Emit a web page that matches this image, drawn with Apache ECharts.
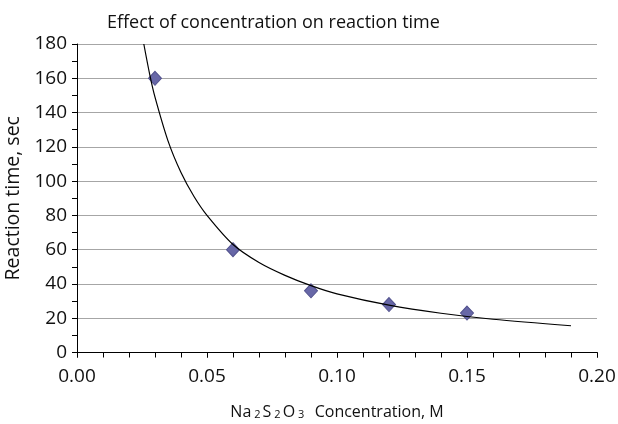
<!DOCTYPE html>
<html>
<head>
<meta charset="utf-8">
<script src="https://cdn.jsdelivr.net/npm/echarts@6/dist/echarts.min.js"></script>
<style>html,body{margin:0;padding:0;background:#fff}#c{width:618px;height:424px}</style>
</head>
<body>
<div id="c"></div>
<script>
// Measured points
const concentration = [0.03, 0.06, 0.09, 0.12, 0.15];
const reactionTime = [160, 60, 36, 28, 23];
// Trendline
const trendX = [0.0257, 0.028, 0.03, 0.035, 0.04, 0.045, 0.05, 0.06, 0.07, 0.08, 0.09, 0.10, 0.12, 0.14, 0.16, 0.19];
const trendY = [180, 162, 149, 123.5, 105, 91, 80, 63, 52.5, 45, 39, 34.2, 27.6, 22.9, 19.4, 15.6];
const xTicks = ['0.00', '0.05', '0.10', '0.15', '0.20'];
const yTicks = [0, 20, 40, 60, 80, 100, 120, 140, 160, 180];

const FONT = "'Open Sans', sans-serif";
const chart = echarts.init(document.getElementById('c'), null, {renderer: 'canvas'});

const xBase = {type: 'value', min: 0, max: 0.2, interval: 0.05};
const yBase = {type: 'value', min: yTicks[0], max: yTicks[yTicks.length - 1], interval: 20};

chart.setOption({
  animation: false,
  backgroundColor: '#fff',
  title: {
    text: 'Effect of concentration on reaction time',
    left: 102, top: 9,
    textStyle: {fontFamily: FONT, fontSize: 18, fontWeight: 'normal', color: '#111'}
  },
  grid: {left: 77, right: 21, top: 44, bottom: 71.5, containLabel: false, outerBoundsMode: 'none'},
  xAxis: [
    Object.assign({}, xBase, {
      axisLine: {show: true, onZero: false, lineStyle: {color: '#000', width: 1}},
      axisTick: {show: true, inside: false, length: 5, lineStyle: {color: '#000'}},
      minorTick: {show: false},
      splitLine: {show: false},
      axisLabel: {
        fontFamily: FONT, fontSize: 19, color: '#111', margin: 15,
        formatter: function (v) { const i = Math.round(v / 0.05); return xTicks[i]; }
      },
      name: '{t|Na}{s|2}{t|S}{s|2}{t|O}{s|3}{t|  Concentration, M}',
      nameLocation: 'middle', nameGap: 46,
      nameTextStyle: {
        rich: {
          t: {fontFamily: FONT, fontSize: 16, color: '#111', lineHeight: 22, verticalAlign: 'bottom'},
          s: {fontFamily: FONT, fontSize: 11, color: '#111', lineHeight: 22, padding: [0, 2, 0, 3], verticalAlign: 'bottom'}
        }
      }
    }),
    Object.assign({}, xBase, {
      axisLine: {show: false},
      axisTick: {show: true, inside: true, length: 5, lineStyle: {color: '#000'}},
      minorTick: {show: true, splitNumber: 5, length: 5, lineStyle: {color: '#000'}},
      splitLine: {show: false},
      axisLabel: {show: false}
    })
  ],
  yAxis: [
    Object.assign({}, yBase, {
      axisLine: {show: true, onZero: false, lineStyle: {color: '#000', width: 1}},
      axisTick: {show: true, inside: false, length: 5, lineStyle: {color: '#000'}},
      minorTick: {show: false},
      splitLine: {show: true, lineStyle: {color: '#a6a6a6', width: 1}},
      axisLabel: {fontFamily: FONT, fontSize: 19, color: '#111', margin: 10},
      name: 'Reaction time, sec',
      nameLocation: 'middle', nameGap: 51,
      nameTextStyle: {fontFamily: FONT, fontSize: 19.5, color: '#111'}
    }),
    Object.assign({}, yBase, {
      axisLine: {show: false},
      axisTick: {show: true, inside: true, length: 5, lineStyle: {color: '#000'}},
      minorTick: {show: true, splitNumber: 2, length: 5, lineStyle: {color: '#000'}},
      splitLine: {show: false},
      axisLabel: {show: false}
    })
  ],
  series: [
    {
      type: 'line',
      xAxisIndex: 0, yAxisIndex: 0,
      data: trendX.map((x, i) => [x, trendY[i]]),
      smooth: 0.3,
      showSymbol: false,
      symbol: 'none',
      lineStyle: {color: '#000', width: 1.2},
      z: 3
    },
    {
      type: 'scatter',
      xAxisIndex: 0, yAxisIndex: 0,
      data: concentration.map((x, i) => [x, reactionTime[i]]),
      symbol: 'diamond',
      symbolSize: [13, 14],
      itemStyle: {color: '#6767a7', borderColor: '#52528e', borderWidth: 1, opacity: 1},
      z: 2
    }
  ]
});
</script>
</body>
</html>
